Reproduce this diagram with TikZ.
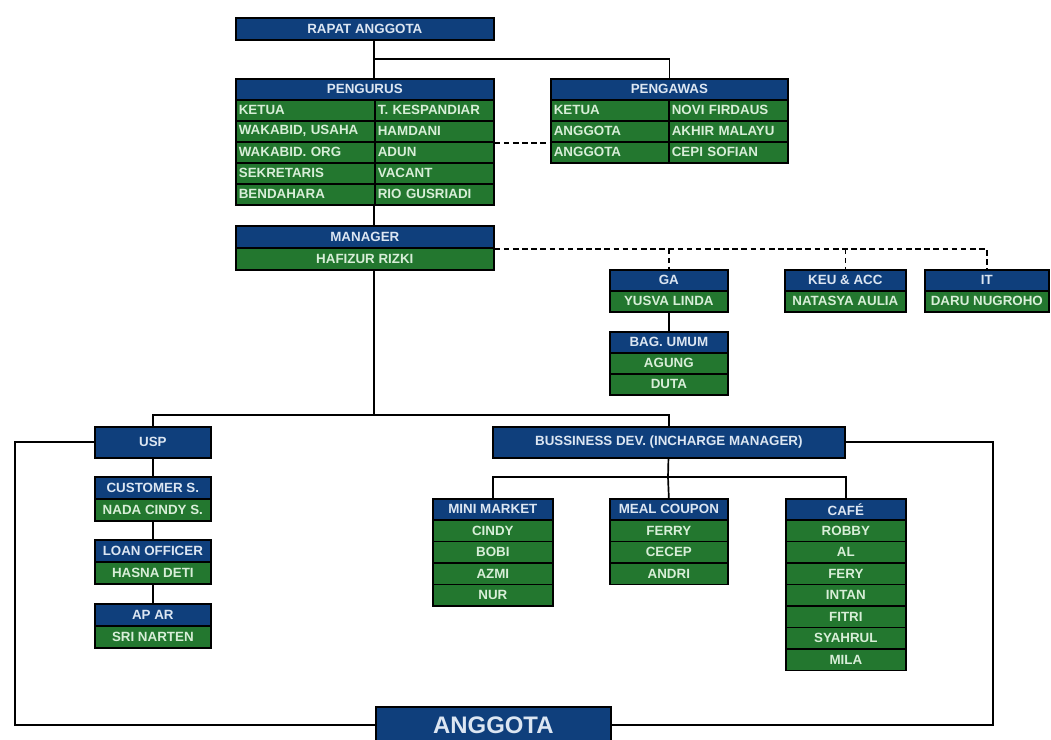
\documentclass[tikz,border=0pt]{standalone}
\usepackage{fontspec}
\setmainfont{Liberation Sans}
\usepackage{tikz}

\newlength\pxu
\setlength\pxu{0.025cm}

\definecolor{hdblue}{HTML}{0F3F7C}
\definecolor{rwgreen}{HTML}{23772F}
\definecolor{hdtext}{HTML}{DCE6F2}
\definecolor{rwtext}{HTML}{D8EED8}

\begin{document}
\begin{tikzpicture}
    [
        x=0.025cm, y=-0.025cm,
        every node/.style={draw=black, line width=1.2pt, inner sep=0pt, anchor=north west,
            font=\fontsize{9.5}{11}\selectfont\bfseries},
        every path/.style={line width=1.2pt},
        hd/.style={fill=hdblue, text=hdtext, minimum height=21\pxu},
        rw/.style={fill=rwgreen, text=rwtext, minimum height=21\pxu},
        lcell/.style={rw, align=left, inner xsep=3\pxu},
        dsh/.style={dash pattern=on 4pt off 2.5pt}
    ]

    % Platz
    \useasboundingbox[fill=white] (0,0) rectangle (1051,740);

    \node[hd, minimum width=258\pxu, minimum height=22\pxu] (rapat) at (235,17) {RAPAT ANGGOTA};

    % pengurus
    \node[hd, minimum width=258\pxu] (pengurus) at (235,78) {PENGURUS};
    \foreach \a/\b [count=\i] in {KETUA/T. KESPANDIAR,{WAKABID, USAHA}/HAMDANI,WAKABID. ORG/ADUN,SEKRETARIS/VACANT,BENDAHARA/RIO GUSRIADI}{
        \node[lcell, text width=133\pxu] (pl\i) at (235,78+21*\i) {\a};
        \node[lcell, text width=113\pxu] (pr\i) at (374,78+21*\i) {\b};
    }

    % pengawas
    \node[hd, minimum width=237\pxu] (pengawas) at (550,78) {PENGAWAS};
    \foreach \a/\b [count=\i] in {KETUA/NOVI FIRDAUS,ANGGOTA/AKHIR MALAYU,ANGGOTA/CEPI SOFIAN}{
        \node[lcell, text width=112\pxu] (wl\i) at (550,78+21*\i) {\a};
        \node[lcell, text width=113\pxu] (wr\i) at (668,78+21*\i) {\b};
    }

    % manager
    \node[hd, minimum width=258\pxu, minimum height=22\pxu] (mgr) at (235,225) {MANAGER};
    \node[rw, minimum width=258\pxu, minimum height=22\pxu] (mgrn) at (235,247) {HAFIZUR RIZKI};

    \node[hd, minimum width=118\pxu] (ga) at (609,269) {GA};
    \node[rw, minimum width=118\pxu] (gan) at (609,290) {YUSVA LINDA};
    \node[hd, minimum width=118\pxu] (bag) at (609,331) {BAG. UMUM};
    \node[rw, minimum width=118\pxu] (bag1) at (609,352) {AGUNG};
    \node[rw, minimum width=118\pxu] (bag2) at (609,373) {DUTA};

    \node[hd, minimum width=121\pxu] (keu) at (784,269) {KEU \& ACC};
    \node[rw, minimum width=121\pxu] (keun) at (784,290) {NATASYA AULIA};

    \node[hd, minimum width=124\pxu] (it) at (924,269) {IT};
    \node[rw, minimum width=124\pxu] (itn) at (924,290) {DARU NUGROHO};

    % usp
    \node[hd, minimum width=116\pxu, minimum height=31\pxu] (usp) at (94,426) {USP};
    \node[hd, minimum width=116\pxu, minimum height=22\pxu] (cs) at (94,476) {CUSTOMER S.};
    \node[rw, minimum width=116\pxu, minimum height=22\pxu] (csn) at (94,498) {NADA CINDY S.};
    \node[hd, minimum width=116\pxu, minimum height=22\pxu] (lo) at (94,539) {LOAN OFFICER};
    \node[rw, minimum width=116\pxu, minimum height=22\pxu] (lon) at (94,561) {HASNA DETI};
    \node[hd, minimum width=116\pxu, minimum height=22\pxu] (ap) at (94,603) {AP AR};
    \node[rw, minimum width=116\pxu, minimum height=22\pxu] (apn) at (94,625) {SRI NARTEN};

    % bisnis
    \node[hd, minimum width=352\pxu, minimum height=31\pxu] (bus) at (492,426) {BUSSINESS DEV. (INCHARGE MANAGER)};

    \node[hd, minimum width=120\pxu] (mm) at (432,498) {MINI MARKET};
    \foreach \t [count=\i] in {CINDY,BOBI,AZMI,NUR}
        \node[rw, minimum width=120\pxu, minimum height=21.5\pxu] (mm\i) at (432,497.5+21.5*\i) {\t};

    \node[hd, minimum width=118\pxu] (mc) at (609,498) {MEAL COUPON};
    \foreach \t [count=\i] in {FERRY,CECEP,ANDRI}
        \node[rw, minimum width=118\pxu, minimum height=21.5\pxu] (mc\i) at (609,497.5+21.5*\i) {\t};

    \node[hd, minimum width=120\pxu] (cafe) at (785,498) {CAFÉ};
    \foreach \t [count=\i] in {ROBBY,AL,FERY,INTAN,FITRI,SYAHRUL,MILA}
        \node[rw, minimum width=120\pxu, minimum height=21.5\pxu] (cafe\i) at (785,497.5+21.5*\i) {\t};

    \node[hd, minimum width=235\pxu, minimum height=36\pxu, font=\fontsize{17}{20}\selectfont\bfseries] (agt) at (375,706) {ANGGOTA};

    % garis
    \coordinate (j1) at (374,59);
    \coordinate (j2) at (374,415);
    \coordinate (j3) at (668,477);
    \coordinate (cl) at (15,436);
    \coordinate (cr) at (993,436);

    \draw (rapat.south -| pr1.west) -- (pengurus.north -| pr1.west);
    \draw (j1) -| (pengawas.north);
    \draw[dsh] (pr2.south east) -- (pr2.south east -| wl2.west);
    \draw (pr5.south west) -- (mgr.north -| pr5.west);
    \draw[dsh] (mgr.south east) -- (mgr.south east -| it.north) -- (it.north);
    \draw[dsh] (mgr.south east -| ga.north) -- (ga.north);
    \draw[dsh] (mgr.south east -| keu.north) -- (keu.north);
    \draw (gan) -- (bag);

    \draw (mgrn.south -| j2) -- (j2);
    \draw (usp.north) |- (j2) -| (bus.north);
    \draw (usp) -- (cs);
    \draw (csn) -- (lo);
    \draw (lon) -- (ap);

    \draw (bus) -- (j3);
    \draw (mm.north) |- (j3) -| (cafe.north);
    \draw (j3) -- (mc.north);

    \draw (usp.west) -| (cl |- agt.west) -- (agt.west);
    \draw (bus.east) -| (cr |- agt.east) -- (agt.east);
\end{tikzpicture}
\end{document}
